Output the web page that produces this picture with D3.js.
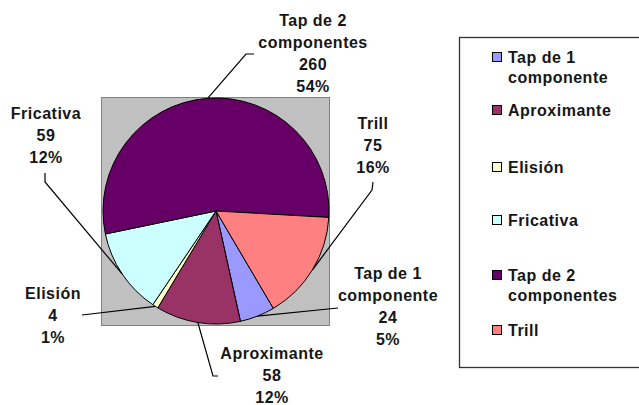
<!DOCTYPE html>
<html>
<head>
<meta charset="utf-8">
<script src="https://cdn.jsdelivr.net/npm/d3@7"></script>
<style>
  html, body { margin: 0; padding: 0; background: #fff; }
  svg { display: block; }
  text { font-family: Arial, "Liberation Sans", sans-serif; font-weight: bold; fill: #161616; letter-spacing: 0.5px; }
</style>
</head>
<body>
<svg id="chart" width="639" height="405"></svg>
<script>
// ---- data ----
const categories = ["Tap de 1 componente", "Aproximante", "Elisión", "Fricativa", "Tap de 2 componentes", "Trill"];
const labelLines = [["Tap de 1", "componente"], ["Aproximante"], ["Elisión"], ["Fricativa"], ["Tap de 2", "componentes"], ["Trill"]];
const values = [24, 58, 4, 59, 260, 75];
const colors = ["#9999FF", "#993366", "#FFFFCC", "#CCFFFF", "#660066", "#FF8080"];

// ---- layout ----
const W = 639, H = 405;
const cx = 216, cy = 211, R = 113;
const startDeg = 149.5;
const plotBox = {x: 101.5, y: 97.5, w: 228, h: 228};
// label block: center x, center y of first line ; leader elbow points (from label towards pie)
const labelLayout = [
  {x: 388, y: 273, leader: [[338, 308]]},
  {x: 272, y: 353, leader: [[218, 376], [213, 376]]},
  {x: 53,  y: 293, leader: [[82, 315]]},
  {x: 46,  y: 113, leader: [[45, 173], [45, 182]]},
  {x: 313, y: 20,  leader: [[254, 54], [246, 54]]},
  {x: 373, y: 123, leader: [[373, 182], [372, 190]]}
];
const lineH = 22;
const fontSize = 16;

const svg = d3.select("#chart");
const total = d3.sum(values);
const pct = d3.format(".0%");

// plot area
svg.append("rect")
  .attr("x", plotBox.x).attr("y", plotBox.y)
  .attr("width", plotBox.w).attr("height", plotBox.h)
  .attr("fill", "#C0C0C0").attr("stroke", "#808080").attr("stroke-width", 1);

const pie = d3.pie().sort(null)
  .startAngle(startDeg * Math.PI / 180)
  .endAngle(startDeg * Math.PI / 180 + 2 * Math.PI);
const arcs = pie(values);
const arc = d3.arc().innerRadius(0).outerRadius(R);

const g = svg.append("g").attr("transform", `translate(${cx},${cy})`);
g.selectAll("path.slice").data(arcs).enter().append("path")
  .attr("class", "slice")
  .attr("d", arc)
  .attr("fill", (d, i) => colors[i])
  .attr("stroke", "#000").attr("stroke-width", 1).attr("stroke-linejoin", "round");

// leader lines
const line = d3.line();
arcs.forEach((d, i) => {
  const mid = (d.startAngle + d.endAngle) / 2;
  const px = cx + R * Math.sin(mid), py = cy - R * Math.cos(mid);
  const pts = labelLayout[i].leader.concat([[px, py]]);
  svg.append("path").attr("d", line(pts))
    .attr("fill", "none").attr("stroke", "#000").attr("stroke-width", 1.2);
});

// data labels
arcs.forEach((d, i) => {
  const L = labelLayout[i];
  const lines = labelLines[i].concat([String(values[i]), pct(values[i] / total)]);
  const t = svg.append("text").attr("text-anchor", "middle").attr("font-size", fontSize);
  lines.forEach((s, k) => {
    t.append("tspan").attr("x", L.x).attr("y", L.y + k * lineH + 6).text(s);
  });
});

// legend
svg.append("rect")
  .attr("x", 459.5).attr("y", 37.5).attr("width", 190).attr("height", 330)
  .attr("fill", "#fff").attr("stroke", "#333").attr("stroke-width", 1.3);
const legendY = [57, 110, 167, 220, 275, 330];
categories.forEach((c, i) => {
  const y = legendY[i];
  svg.append("rect")
    .attr("x", 492.5).attr("y", y - 4.5).attr("width", 9).attr("height", 9)
    .attr("fill", colors[i]).attr("stroke", "#000").attr("stroke-width", 1);
  const t = svg.append("text").attr("font-size", fontSize);
  labelLines[i].forEach((s, k) => {
    t.append("tspan").attr("x", 508).attr("y", y + 6 + k * 20).text(s);
  });
});
</script>
</body>
</html>
